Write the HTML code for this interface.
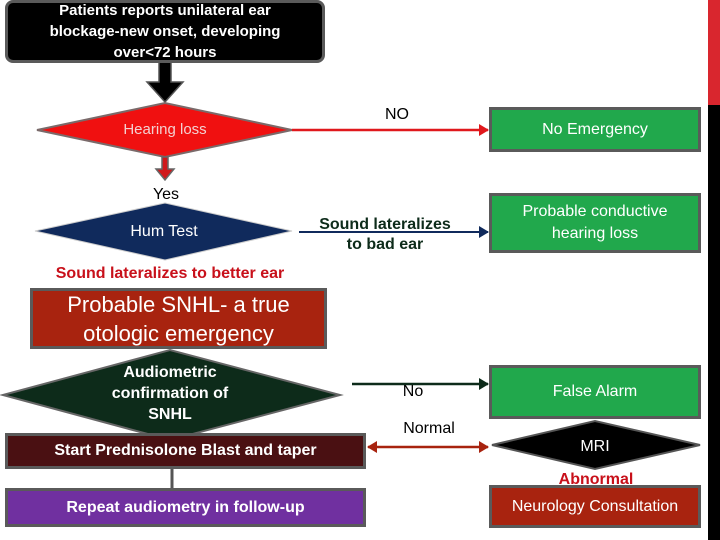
<!DOCTYPE html>
<html><head><style>
body{margin:0;width:720px;height:540px;background:#fff;position:relative;overflow:hidden;font-family:"Liberation Sans",sans-serif}
.b{position:absolute;box-sizing:border-box;border:3px solid #5a5a5a;color:#fff;display:flex;align-items:center;justify-content:center;text-align:center}
.t{position:absolute;white-space:nowrap;transform:translateX(-50%)}
</style></head><body>
<div style="position:absolute;left:708px;top:0;width:12px;height:105px;background:#d9262e"></div>
<div style="position:absolute;left:708px;top:105px;width:12px;height:435px;background:#000"></div>
<svg width="720" height="540" style="position:absolute;left:0;top:0">
<defs>
<marker id="r" markerUnits="userSpaceOnUse" markerWidth="10" markerHeight="12" refX="9" refY="6" orient="auto"><path d="M0,0L10,6L0,12z" fill="#e0181c"/></marker>
<marker id="n" markerUnits="userSpaceOnUse" markerWidth="10" markerHeight="12" refX="9" refY="6" orient="auto"><path d="M0,0L10,6L0,12z" fill="#102a5c"/></marker>
<marker id="g" markerUnits="userSpaceOnUse" markerWidth="10" markerHeight="12" refX="9" refY="6" orient="auto"><path d="M0,0L10,6L0,12z" fill="#0d2b1a"/></marker>
<marker id="m" markerUnits="userSpaceOnUse" markerWidth="10" markerHeight="12" refX="9" refY="6" orient="auto-start-reverse"><path d="M0,0L10,6L0,12z" fill="#a8230f"/></marker>
</defs>
<path d="M159,62h12v20h12l-18,20l-18,-20h12z" fill="#000" stroke="#555" stroke-width="1.5"/>
<polygon points="37,130 165,103 292,130 165,157" fill="#f01010" stroke="#7a6a6a" stroke-width="2"/>
<line x1="292" y1="130" x2="488" y2="130" stroke="#e0181c" stroke-width="2.5" marker-end="url(#r)"/>
<path d="M162,157h6v12h6l-9,11l-9,-11h6z" fill="#d0181c" stroke="#666" stroke-width="1.5"/>
<polygon points="35,231 165,203 292,231 165,260" fill="#102a5c" stroke="#ccc" stroke-width="1"/>
<line x1="299" y1="232" x2="488" y2="232" stroke="#102a5c" stroke-width="2" marker-end="url(#n)"/>
<polygon points="3,395 170,350 340,395 170,440" fill="#0d2b1a" stroke="#666" stroke-width="2"/>
<line x1="352" y1="384" x2="488" y2="384" stroke="#0d2b1a" stroke-width="2.5" marker-end="url(#g)"/>
<line x1="368" y1="447" x2="488" y2="447" stroke="#a8230f" stroke-width="2.5" marker-start="url(#m)" marker-end="url(#m)"/>
<polygon points="492,445 595,421 700,445 595,469" fill="#000" stroke="#555" stroke-width="2"/>
<line x1="172" y1="468" x2="172" y2="490" stroke="#555" stroke-width="3"/>
</svg>
<div class="b" style="left:5px;top:0;width:320px;height:63px;background:#000;border-radius:8px;font-weight:bold;font-size:15px;line-height:21px">Patients reports unilateral ear<br>blockage-new onset, developing<br>over&lt;72 hours</div>
<div class="t" style="left:165px;top:121px;color:#f3d0d0;font-size:15px">Hearing loss</div>
<div class="t" style="left:397px;top:106px;font-size:16px">NO</div>
<div class="b" style="left:489px;top:107px;width:212px;height:45px;background:#21a84c;font-size:16px">No Emergency</div>
<div class="t" style="left:166px;top:186px;font-size:16px">Yes</div>
<div class="t" style="left:164px;top:223px;color:#fff;font-size:16px">Hum Test</div>
<div class="t" style="left:385px;top:215px;color:#0d2b1a;font-size:16px;font-weight:bold;text-align:center;line-height:20px">Sound lateralizes<br>to bad ear</div>
<div class="b" style="left:489px;top:193px;width:212px;height:60px;background:#21a84c;font-size:16px;line-height:22px">Probable conductive<br>hearing loss</div>
<div class="t" style="left:170px;top:265px;color:#c8101a;font-weight:bold;font-size:16px">Sound lateralizes to better ear</div>
<div class="b" style="left:30px;top:288px;width:297px;height:61px;background:#a8230f;font-size:22px;line-height:29px">Probable SNHL- a true<br>otologic emergency</div>
<div class="t" style="left:170px;top:362px;color:#fff;font-weight:bold;font-size:16px;text-align:center;line-height:21px">Audiometric<br>confirmation of<br>SNHL</div>
<div class="t" style="left:413px;top:383px;font-size:16px">No</div>
<div class="b" style="left:489px;top:365px;width:212px;height:54px;background:#21a84c;font-size:16px">False Alarm</div>
<div class="t" style="left:429px;top:420px;font-size:16px">Normal</div>
<div class="t" style="left:595px;top:438px;color:#fff;font-size:16px">MRI</div>
<div class="b" style="left:5px;top:433px;width:361px;height:36px;background:#4a1012;font-weight:bold;font-size:16px">Start Prednisolone Blast and taper</div>
<div class="t" style="left:596px;top:471px;color:#c8101a;font-weight:bold;font-size:16px">Abnormal</div>
<div class="b" style="left:489px;top:485px;width:212px;height:43px;background:#a8230f;font-size:16px">Neurology Consultation</div>
<div class="b" style="left:5px;top:488px;width:361px;height:39px;background:#7030a0;font-weight:bold;font-size:16px">Repeat audiometry in follow-up</div>
</body></html>
